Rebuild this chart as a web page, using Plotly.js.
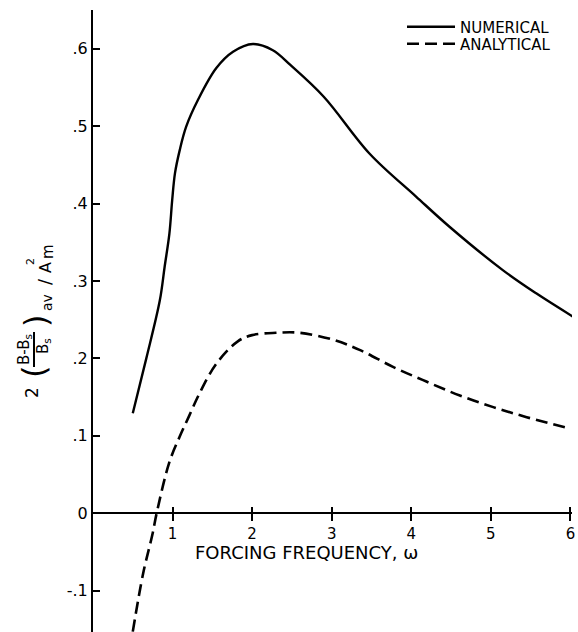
<!DOCTYPE html>
<html>
<head>
<meta charset="utf-8">
<script src="https://cdn.plot.ly/plotly-3.0.1.min.js"></script>
<style>html,body{margin:0;padding:0;background:#fff;}#chart{width:578px;height:632px;}</style>
</head>
<body>
<div id="chart"></div>
<script>
// ---- data ----
const numericalX = [0.50, 0.67, 0.84, 0.90, 0.96, 0.995, 1.03, 1.09, 1.17, 1.32, 1.55, 1.76, 2.01, 2.26, 2.48, 2.90, 3.48, 4.06, 4.48, 5.15, 5.57, 6.03];
const numericalY = [0.129, 0.200, 0.275, 0.318, 0.361, 0.404, 0.439, 0.469, 0.499, 0.534, 0.575, 0.596, 0.606, 0.598, 0.579, 0.538, 0.464, 0.409, 0.370, 0.314, 0.284, 0.254];
const analyticalX = [0.50, 0.63, 0.75, 0.80, 0.96, 1.09, 1.21, 1.34, 1.55, 1.82, 2.00, 2.30, 2.60, 3.02, 3.35, 3.77, 4.19, 4.61, 5.03, 5.45, 6.00];
const analyticalY = [-0.153, -0.078, -0.026, 0.000, 0.066, 0.099, 0.126, 0.155, 0.193, 0.222, 0.230, 0.233, 0.233, 0.224, 0.211, 0.189, 0.170, 0.152, 0.137, 0.124, 0.109];
const xTickVals = [1, 2, 3, 4, 5, 6];
const xTickText = ["1", "2", "3", "4", "5", "6"];
const yTickVals = [0.6, 0.5, 0.4, 0.3, 0.2, 0.1, 0, -0.1];
const yTickText = [".6", ".5", ".4", ".3", ".2", ".1", "0", "-.1"];
const seriesNames = ["NUMERICAL", "ANALYTICAL"];
const xTitle = "FORCING FREQUENCY, ω";

// ---- layout geometry ----
const W = 578, H = 632, ML = 93, MR = 6, MT = 10, MB = 0;
const PW = W - ML - MR, PH = H - MT - MB;
const xRange = [0, 6.02];
const yRange = [-0.1535, 0.650];
const zeroPos = (0 - yRange[0]) / (yRange[1] - yRange[0]);
const FONT = "DejaVu Sans";
const px = v => (v - ML) / PW;
const py = v => (H - MB - v) / PH;

function rot(text, x, y, size) {
  return {text: text, xref: 'paper', yref: 'paper', x: px(x), y: py(y),
    xanchor: 'center', yanchor: 'middle', textangle: -90, showarrow: false,
    font: {family: FONT, size: size, color: '#000'}};
}
function legendAt(yPix) {
  return {x: px(402), xanchor: 'left', y: py(yPix), yanchor: 'middle', bgcolor: 'rgba(0,0,0,0)',
    font: {family: FONT, size: 15, color: '#000'}, itemwidth: 48, tracegroupgap: 0};
}

const traces = [
  {x: numericalX, y: numericalY, name: seriesNames[0], mode: 'lines', type: 'scatter', legend: 'legend',
   line: {color: '#000', width: 2.4, shape: 'spline', smoothing: 1.0}, hoverinfo: 'skip'},
  {x: analyticalX, y: analyticalY, name: seriesNames[1], mode: 'lines', type: 'scatter', legend: 'legend2',
   line: {color: '#000', width: 2.6, dash: '12px,6px', shape: 'spline', smoothing: 1.0}, hoverinfo: 'skip'},
  {x: [], y: [], xaxis: 'x2', yaxis: 'y', showlegend: false, hoverinfo: 'skip', type: 'scatter'}
];

const layout = {
  width: W, height: H,
  margin: {l: ML, r: MR, t: MT, b: MB, pad: 0},
  paper_bgcolor: '#fff', plot_bgcolor: '#fff',
  font: {family: FONT, color: '#000'},
  showlegend: true,
  legend: legendAt(27),
  legend2: legendAt(44),
  xaxis: {range: xRange, anchor: 'free', position: zeroPos, showline: true, linewidth: 2, linecolor: '#000',
    showgrid: false, zeroline: false, tickmode: 'array', tickvals: xTickVals, ticktext: xTickText,
    ticks: 'outside', ticklen: 7, tickwidth: 2, tickcolor: '#000',
    tickfont: {family: FONT, size: 15, color: '#000'}},
  xaxis2: {range: xRange, overlaying: 'x', anchor: 'free', position: zeroPos, showline: false,
    showgrid: false, zeroline: false, tickmode: 'array', tickvals: xTickVals, showticklabels: false,
    ticks: 'inside', ticklen: 6, tickwidth: 2, tickcolor: '#000'},
  yaxis: {range: yRange, showline: true, linewidth: 2, linecolor: '#000', showgrid: false, zeroline: false,
    tickmode: 'array', tickvals: yTickVals, ticktext: yTickText,
    ticks: 'inside', ticklen: 7, tickwidth: 2, tickcolor: '#000',
    tickfont: {family: FONT, size: 16, color: '#000'}},
  annotations: [
    {text: xTitle, xref: 'paper', yref: 'paper', x: px(306), y: py(552), xanchor: 'center', yanchor: 'middle',
     showarrow: false, font: {family: FONT, size: 18, color: '#000'}},
    rot('2', 32, 392, 17),
    rot('(', 34, 372, 32),
    rot('B-B<sub>s</sub>', 24, 350, 15),
    rot('B<sub>s</sub>', 44, 346, 15),
    rot(')', 36, 321, 32),
    rot('av', 47, 303, 14),
    rot('/', 44, 282, 18),
    rot('A', 45, 268, 16),
    rot('2', 30, 262, 11),
    rot('m', 48, 252, 15)
  ],
  shapes: [
    {type: 'line', xref: 'paper', yref: 'paper', x0: px(34), x1: px(34), y0: py(332), y1: py(367),
     line: {color: '#000', width: 2}}
  ]
};

Plotly.newPlot('chart', traces, layout, {staticPlot: true});
</script>
</body>
</html>
